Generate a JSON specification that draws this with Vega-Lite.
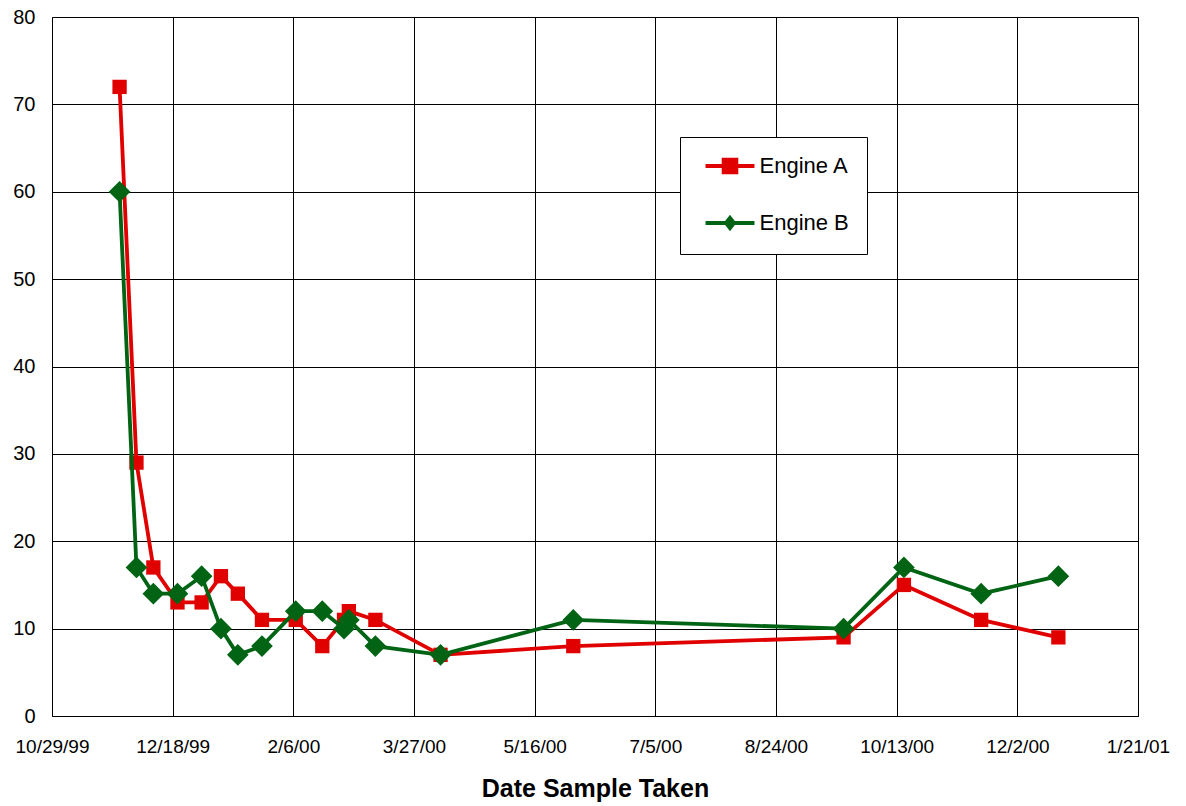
{
  "$schema": "https://vega.github.io/schema/vega-lite/v6.json",
  "width": 1086,
  "height": 699,
  "autosize": "none",
  "padding": {"left": 52, "top": 17, "right": 48, "bottom": 90},
  "background": "white",
  "config": {
    "view": {"stroke": "#808080", "strokeWidth": 1},
    "font": "Liberation Sans"
  },
  "data": {
    "values": [
      {"date": "1999-11-26", "engine": "Engine A", "value": 72},
      {"date": "1999-12-03", "engine": "Engine A", "value": 29},
      {"date": "1999-12-10", "engine": "Engine A", "value": 17},
      {"date": "1999-12-20", "engine": "Engine A", "value": 13},
      {"date": "1999-12-30", "engine": "Engine A", "value": 13},
      {"date": "2000-01-07", "engine": "Engine A", "value": 16},
      {"date": "2000-01-14", "engine": "Engine A", "value": 14},
      {"date": "2000-01-24", "engine": "Engine A", "value": 11},
      {"date": "2000-02-07", "engine": "Engine A", "value": 11},
      {"date": "2000-02-18", "engine": "Engine A", "value": 8},
      {"date": "2000-02-27", "engine": "Engine A", "value": 11},
      {"date": "2000-02-29", "engine": "Engine A", "value": 12},
      {"date": "2000-03-11", "engine": "Engine A", "value": 11},
      {"date": "2000-04-07", "engine": "Engine A", "value": 7},
      {"date": "2000-06-01", "engine": "Engine A", "value": 8},
      {"date": "2000-09-21", "engine": "Engine A", "value": 9},
      {"date": "2000-10-16", "engine": "Engine A", "value": 15},
      {"date": "2000-11-17", "engine": "Engine A", "value": 11},
      {"date": "2000-12-19", "engine": "Engine A", "value": 9},
      {"date": "1999-11-26", "engine": "Engine B", "value": 60},
      {"date": "1999-12-03", "engine": "Engine B", "value": 17},
      {"date": "1999-12-10", "engine": "Engine B", "value": 14},
      {"date": "1999-12-20", "engine": "Engine B", "value": 14},
      {"date": "1999-12-30", "engine": "Engine B", "value": 16},
      {"date": "2000-01-07", "engine": "Engine B", "value": 10},
      {"date": "2000-01-14", "engine": "Engine B", "value": 7},
      {"date": "2000-01-24", "engine": "Engine B", "value": 8},
      {"date": "2000-02-07", "engine": "Engine B", "value": 12},
      {"date": "2000-02-18", "engine": "Engine B", "value": 12},
      {"date": "2000-02-27", "engine": "Engine B", "value": 10},
      {"date": "2000-02-29", "engine": "Engine B", "value": 11},
      {"date": "2000-03-11", "engine": "Engine B", "value": 8},
      {"date": "2000-04-07", "engine": "Engine B", "value": 7},
      {"date": "2000-06-01", "engine": "Engine B", "value": 11},
      {"date": "2000-09-21", "engine": "Engine B", "value": 10},
      {"date": "2000-10-16", "engine": "Engine B", "value": 17},
      {"date": "2000-11-17", "engine": "Engine B", "value": 14},
      {"date": "2000-12-19", "engine": "Engine B", "value": 16}
    ]
  },
  "encoding": {
    "x": {
      "field": "date",
      "type": "temporal",
      "title": "Date Sample Taken",
      "scale": {"type": "utc", "domain": [941155200000, 980035200000]},
      "axis": {
        "values": [941155200000, 945475200000, 949795200000, 954115200000, 958435200000, 962755200000, 967075200000, 971395200000, 975715200000, 980035200000],
        "labelExpr": "utcFormat(datum.value, '%-m/%-d/%y')",
        "labelFontSize": 19,
        "labelColor": "black",
        "labelPadding": 21,
        "labelFlush": false,
        "labelOverlap": false,
        "labelBound": false,
        "ticks": false,
        "tickSize": 0,
        "domain": true,
        "domainColor": "black",
        "grid": true,
        "gridColor": "black",
        "gridOpacity": 1,
        "gridWidth": 1,
        "titleFontSize": 25,
        "titleFontWeight": "bold",
        "titleColor": "black",
        "titlePadding": 20
      }
    },
    "y": {
      "field": "value",
      "type": "quantitative",
      "title": null,
      "scale": {"domain": [0, 80], "nice": false, "zero": true},
      "axis": {
        "values": [0, 10, 20, 30, 40, 50, 60, 70, 80],
        "labelFontSize": 20,
        "labelColor": "black",
        "labelPadding": 17,
        "labelFlush": false,
        "labelOverlap": false,
        "labelBound": false,
        "ticks": false,
        "tickSize": 0,
        "domain": false,
        "grid": true,
        "gridColor": "black",
        "gridOpacity": 1,
        "gridWidth": 1
      }
    },
    "color": {
      "field": "engine",
      "type": "nominal",
      "scale": {"domain": ["Engine A", "Engine B"], "range": ["#E00000", "#006414"]},
      "legend": null
    }
  },
  "layer": [
    {
      "transform": [{"filter": "datum.engine === 'Engine A'"}],
      "mark": {"type": "line", "strokeWidth": 3.8},
      "encoding": {
        "color": {
          "field": "engine",
          "type": "nominal",
          "scale": {"domain": ["Engine A", "Engine B"], "range": ["#E00000", "#006414"]},
          "legend": {
            "title": null,
            "orient": "none",
            "legendX": 628,
            "legendY": 120,
            "fillColor": "white",
            "strokeColor": "black",
            "padding": 18,
            "rowPadding": 30,
            "symbolSize": 256,
            "symbolStrokeWidth": 3,
            "symbolOffset": 21,
            "labelOffset": 18.5,
            "labelFontSize": 22,
            "labelColor": "black",
            "labelFont": "Liberation Sans",
            "encode": {
              "symbols": {
                "update": {
                  "shape": {"signal": "datum.value === 'Engine A' ? 'M-3.06,0H3.06M-0.8,-0.8H0.8V0.8H-0.8Z' : 'M-3.06,0H3.06M-0.5,0L0,-0.65L0.5,0L0,0.65Z'"},
                  "fill": {"signal": "datum.value === 'Engine A' ? '#E00000' : '#006414'"},
                  "stroke": {"signal": "datum.value === 'Engine A' ? '#E00000' : '#006414'"},
                  "strokeWidth": {"value": 3.8},
                  "opacity": {"value": 1}
                }
              }
            }
          }
        }
      }
    },
    {
      "transform": [{"filter": "datum.engine === 'Engine A'"}],
      "mark": {"type": "point", "shape": "square", "filled": true, "size": 205, "opacity": 1}
    },
    {
      "transform": [{"filter": "datum.engine === 'Engine B'"}],
      "mark": {"type": "line", "strokeWidth": 3.8}
    },
    {
      "transform": [{"filter": "datum.engine === 'Engine B'"}],
      "mark": {"type": "point", "shape": "diamond", "filled": true, "size": 470, "opacity": 1}
    }
  ]
}
